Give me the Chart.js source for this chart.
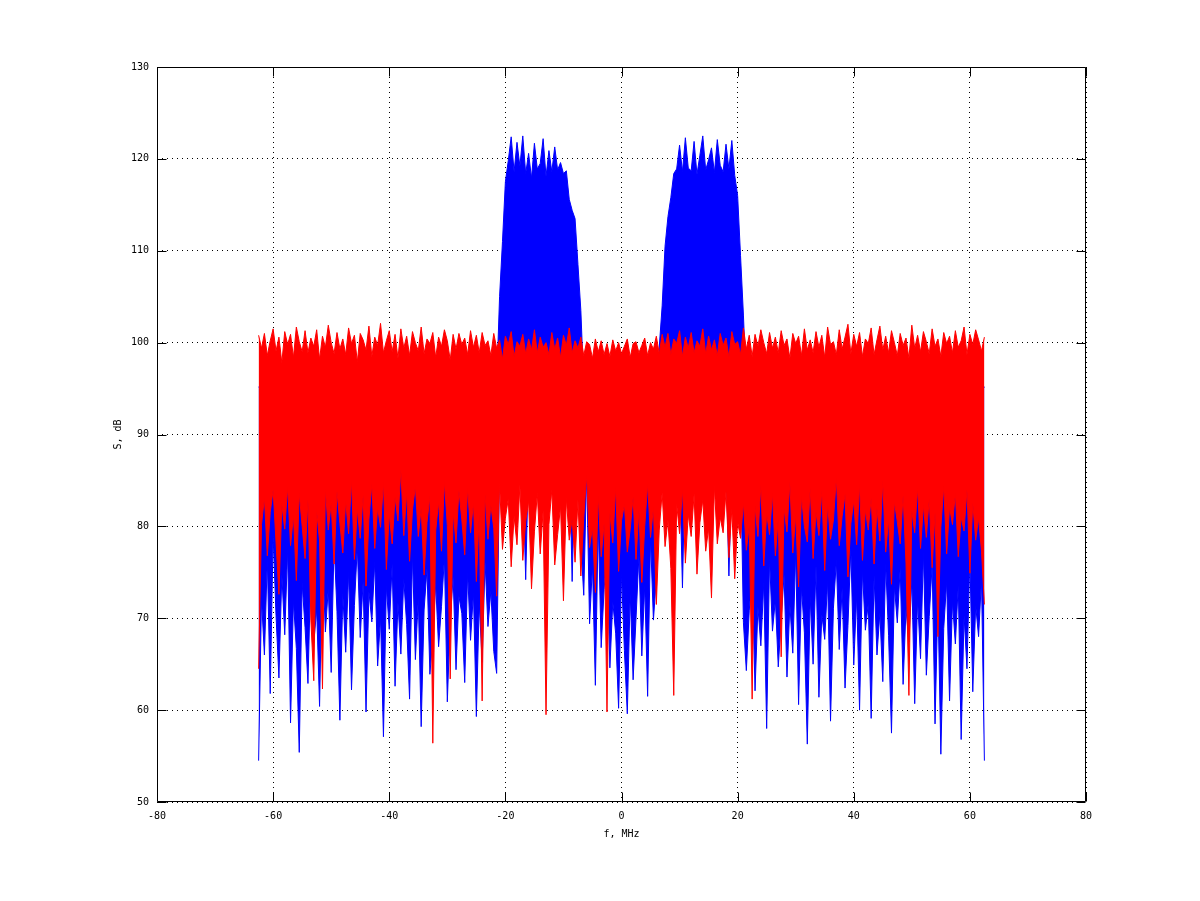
<!DOCTYPE html>
<html>
<head>
<meta charset="utf-8">
<title>Spectrum</title>
<script src="https://cdn.jsdelivr.net/npm/chart.js@4.4.1/dist/chart.umd.min.js"></script>
<style>
  html, body { margin: 0; background: #fff; }
  canvas { display: block; }
</style>
</head>
<body>
<canvas id="spectrum" width="1200" height="901"></canvas>
<script>
// spectrum samples every 0.5 MHz from -62.5 to 62.5
const F_START = -62.5;
const F_STEP = 0.5;

// upper / lower envelopes, dB
const redTop = [
  100.8, 99.4, 101.0, 98.6, 100.2, 101.5, 99.1, 100.6, 97.8, 101.2,
  99.8, 100.9, 98.4, 101.7, 100.1, 99.0, 101.3, 98.9, 100.5, 99.6,
  101.4, 98.2, 100.7, 99.5, 101.9, 100.0, 98.8, 101.1, 99.3, 100.4,
  98.7, 101.6, 99.9, 100.8, 97.9, 101.0, 100.3, 99.2, 101.8, 98.5,
  100.6, 99.7, 102.1, 98.9, 100.2, 101.3, 99.0, 100.9, 98.3, 101.5,
  99.4, 100.7, 98.6, 101.2, 100.0, 99.1, 101.7, 98.8, 100.4, 99.9,
  101.1, 98.4, 100.6, 99.6, 101.4, 100.2, 98.1, 100.9, 99.3, 101.0,
  99.8, 100.5, 98.7, 101.3, 99.5, 100.8, 98.9, 101.1, 99.7, 100.2,
  98.6, 101.0, 99.4, 100.3, 98.2, 100.7, 99.8, 101.2, 98.5, 100.1,
  99.6, 100.9, 98.8, 100.4, 99.2, 101.4, 98.9, 100.6, 99.5, 100.0,
  98.7, 101.1, 99.3, 100.5, 98.4, 100.8, 99.7, 101.6, 98.9, 100.2,
  99.4, 100.6, 98.6, 100.1, 99.8, 98.3, 100.4, 99.0, 100.2, 98.7,
  99.9, 98.5, 100.3, 99.1, 100.0, 98.8, 99.6, 100.4, 98.4, 99.9,
  100.1, 98.9, 99.7, 100.5, 98.6, 100.0, 99.3, 100.7, 98.8, 100.9,
  99.5, 101.0, 98.7, 100.4, 99.9, 101.3, 98.5, 100.6, 99.4, 101.1,
  98.9, 100.2, 99.6, 101.5, 98.8, 100.7, 99.2, 100.3, 98.6, 101.0,
  99.7, 100.5, 98.4, 101.2, 99.8, 100.1, 98.7, 101.6, 99.3, 100.8,
  98.5, 100.9, 99.6, 101.4, 100.0, 98.8, 101.1, 99.4, 100.6, 98.9,
  101.3, 99.7, 100.4, 98.3, 101.0, 99.9, 100.7, 98.6, 101.5, 99.2,
  100.3, 98.9, 101.2, 99.5, 100.8, 98.4, 101.7, 99.8, 100.1, 98.7,
  101.4, 99.3, 100.6, 102.0, 98.8, 100.9, 99.6, 101.1, 98.5, 100.4,
  99.9, 101.6, 98.7, 100.3, 101.8, 99.2, 100.7, 98.9, 101.3, 100.0,
  98.6, 101.0, 99.7, 100.5, 98.3, 101.9, 99.4, 100.8, 99.0, 101.2,
  100.1, 98.8, 101.5, 99.6, 100.4, 98.5, 101.1, 99.9, 100.7, 98.9,
  101.3, 99.5, 100.2, 101.7, 98.7, 100.9, 99.8, 101.4, 100.3, 99.1,
  100.6
];

const redBottom = [
  64.5, 80.2, 83.1, 76.8, 81.5, 84.0, 78.3, 72.6, 82.4, 79.7,
  84.3, 77.9, 81.2, 74.1, 83.6, 80.0, 76.5, 82.9, 69.8, 63.2,
  81.7, 78.4, 62.3, 84.1, 79.6, 82.5, 75.9, 83.8, 80.3, 77.1,
  82.8, 79.2, 85.0, 76.4, 81.9, 78.7, 83.4, 73.5, 80.8, 84.6,
  77.6, 82.1, 79.9, 84.8, 75.3, 81.4, 78.1, 83.2, 80.6, 86.2,
  79.0, 83.7, 76.2, 81.8, 84.4, 78.9, 82.0, 74.7, 80.4, 83.3,
  56.4, 79.5, 82.7, 77.3, 84.9, 80.1, 63.4, 81.6, 78.2, 83.9,
  80.7, 76.9, 84.2, 79.3, 82.6, 74.0, 81.3, 61.0, 83.5, 78.6,
  82.3, 79.8, 72.4, 84.7, 77.5, 80.9, 83.0, 75.6, 81.1, 78.0,
  84.5, 76.3, 80.5, 82.8, 73.2, 79.4, 83.6, 77.0, 81.7, 59.5,
  80.2, 84.0, 75.8, 79.1, 82.2, 71.9, 83.1, 78.5, 80.8, 76.1,
  82.9, 74.6, 81.0, 85.6, 77.7, 79.9, 72.8, 83.4, 76.7, 80.3,
  59.8, 81.5, 78.2, 84.3, 75.1, 80.6, 82.4, 77.2, 79.7, 83.2,
  76.4, 81.8, 73.9, 80.0, 84.6, 78.8, 82.1, 71.5, 79.6, 83.7,
  77.8, 80.7, 75.4, 61.6, 82.5, 79.2, 84.1, 76.0, 81.3, 78.9,
  83.5, 74.8, 80.4, 82.9, 77.3, 79.8, 72.2, 84.4, 78.1, 81.0,
  79.3, 83.8, 76.6, 81.9, 74.3, 80.5, 78.7, 82.6, 77.4, 80.1,
  61.2, 82.2, 78.9, 84.5, 75.7, 81.4, 79.1, 83.6, 76.8, 80.9,
  65.8, 82.0, 79.4, 84.8, 77.1, 81.2, 73.4, 83.3, 80.0, 78.3,
  84.2, 76.5, 81.6, 79.0, 83.9, 75.2, 82.4, 78.6, 80.7, 85.3,
  77.9, 81.1, 83.5, 74.5, 80.3, 82.8, 78.0, 84.6, 76.3, 81.8,
  79.6, 83.1, 75.9, 82.0, 78.4, 84.9, 77.2, 80.8, 73.7, 82.7,
  80.5, 78.1, 83.4, 76.0, 61.6, 81.7, 79.3, 84.2, 77.6, 82.3,
  78.8, 83.0, 75.5, 81.5, 68.0, 79.9, 84.4, 77.0, 82.1, 80.2,
  83.6, 76.7, 81.0, 79.5, 84.0, 74.9, 82.6, 78.5, 80.9, 77.3,
  71.5
];

const blueTop = [
  95.2, 94.8, 95.5, 94.6, 95.1, 95.4, 94.9, 95.3, 94.7, 95.0,
  94.9, 95.3, 94.6, 95.5, 95.0, 94.8, 95.2, 94.7, 95.4, 95.1,
  95.3, 94.7, 95.0, 95.4, 94.8, 95.2, 94.6, 95.5, 94.9, 95.1,
  94.8, 95.4, 95.1, 94.7, 95.3, 94.9, 95.5, 94.6, 95.2, 95.0,
  95.1, 94.6, 95.4, 94.9, 95.2, 94.8, 95.0, 95.5, 94.7, 95.3,
  94.7, 95.2, 94.9, 95.5, 94.6, 95.1, 95.3, 94.8, 95.0, 95.4,
  95.0, 95.5, 94.8, 95.1, 94.7, 95.4, 94.9, 95.2, 95.3, 94.6,
  95.4, 94.9, 95.2, 94.6, 95.0, 95.3, 94.8, 95.1, 94.7, 95.5,
  95.2, 94.8, 95.6, 105.0, 111.0, 117.5, 119.8, 122.4, 118.6, 121.8,
  119.2, 122.5, 118.4, 120.6, 117.9, 121.7, 118.9, 119.5, 122.2, 118.1,
  120.9, 118.6, 121.3, 118.8, 119.6, 118.4, 118.7, 115.6, 114.4, 113.5,
  108.5, 103.5, 95.4, 94.9, 95.3, 94.7, 95.5, 95.0, 94.6, 95.2,
  95.1, 94.8, 95.4, 94.7, 95.0, 95.3, 94.9, 95.2, 94.6, 95.5,
  94.8, 95.3, 95.0, 94.6, 95.4, 94.9, 95.2, 94.7, 99.5, 104.0,
  110.5, 113.7, 115.8, 118.4, 118.9, 121.5, 118.6, 122.3, 119.0, 118.7,
  121.9, 118.3, 120.4, 122.5, 118.8, 119.9, 121.2, 118.5, 122.1, 119.3,
  118.6, 121.6, 118.9, 122.0, 118.2, 116.0, 109.5, 103.0, 95.2, 94.8,
  95.3, 94.7, 95.1, 95.5, 94.9, 95.2, 94.6, 95.4, 95.0, 94.8,
  95.4, 95.0, 94.7, 95.2, 95.5, 94.8, 95.1, 94.9, 95.3, 94.6,
  94.9, 95.3, 95.1, 94.6, 95.0, 95.4, 94.7, 95.5, 95.2, 94.8,
  95.1, 94.7, 95.4, 95.0, 94.8, 95.3, 95.5, 94.6, 94.9, 95.2,
  95.5, 94.9, 95.2, 94.8, 95.3, 94.6, 95.0, 95.4, 95.1, 94.7,
  94.8, 95.2, 94.6, 95.5, 95.1, 94.9, 95.3, 94.7, 95.4, 95.0,
  95.3, 94.8, 95.0, 94.7, 95.4, 95.2, 94.9, 95.5, 94.6, 95.1,
  95.0, 95.4, 94.8, 95.2, 94.7, 95.5, 95.1, 94.9, 95.3, 94.6,
  95.2
];

const blueBottom = [
  54.5, 72.1, 66.0, 76.4, 61.8, 79.0, 70.3, 63.5, 74.8, 68.2,
  77.5, 58.6, 71.9, 66.7, 55.4, 73.8, 69.0, 62.9, 75.6, 67.3,
  71.0, 60.4, 76.9, 68.5, 73.2, 64.1, 78.3, 70.7, 58.9, 72.6,
  66.3, 75.1, 62.2, 71.4, 77.8, 67.9, 74.0, 59.8, 72.9, 69.6,
  76.2, 64.8, 70.1, 57.1, 73.5, 68.8, 75.9, 62.6, 71.7, 66.1,
  74.3, 69.3, 61.2, 77.0, 65.5, 72.2, 58.2, 70.9, 75.4, 63.9,
  68.0, 73.7, 66.9, 71.3, 76.6, 60.9, 69.7, 74.5, 64.4, 72.4,
  70.5, 63.0, 75.0, 67.6, 72.8, 59.3, 71.6, 65.2, 76.1, 69.1,
  73.0, 66.4, 64.0, 86.5, 87.8, 85.9, 88.4, 86.8, 87.2, 85.5,
  88.0, 86.2, 74.2, 87.5, 86.0, 88.6, 85.7, 87.1, 86.4, 88.2,
  85.8, 87.4, 86.6, 88.1, 85.6, 87.0, 86.3, 88.5, 74.0, 86.9,
  85.4, 78.2, 72.5, 86.1, 69.4, 75.8, 62.7, 80.5, 66.8, 73.1,
  77.4, 64.6, 71.8, 68.3, 60.2, 74.9, 66.5, 59.6, 72.7, 63.3,
  70.0, 76.8, 65.9, 73.6, 61.5, 78.7, 69.8, 74.4, 86.7, 85.3,
  87.9, 86.1, 88.3, 85.6, 87.3, 86.5, 73.3, 88.0, 85.9, 87.6,
  86.2, 88.4, 85.7, 87.1, 86.8, 88.2, 85.5, 87.7, 86.3, 88.5,
  85.8, 87.2, 74.6, 86.4, 88.1, 85.4, 87.5, 69.5, 64.3, 70.8,
  75.3, 62.1, 71.2, 67.0, 73.9, 58.0, 76.5, 68.6, 72.0, 64.7,
  69.9, 74.7, 63.6, 71.5, 66.2, 77.3, 60.6, 73.4, 68.4, 56.3,
  72.3, 65.0, 75.7, 61.4, 70.4, 67.7, 74.1, 58.8, 71.1, 76.3,
  66.6, 73.3, 62.4, 69.2, 77.6, 64.9, 72.5, 60.0, 75.2, 68.7,
  71.6, 59.1, 74.6, 66.0, 70.6, 63.1, 76.0, 68.1, 57.5, 73.5,
  69.5, 75.5, 62.8, 71.0, 67.4, 74.2, 60.7, 72.1, 65.6, 77.1,
  63.8, 70.2, 75.8, 58.5, 72.2, 55.2, 68.9, 74.0, 61.0, 71.8,
  67.2, 73.6, 56.8, 70.3, 64.5, 76.7, 62.0, 71.4, 68.0, 74.3,
  54.5
];

const xTicks = [-80, -60, -40, -20, 0, 20, 40, 60, 80];
const yTicks = [50, 60, 70, 80, 90, 100, 110, 120, 130];

const RED = '#ff0000';
const BLUE = '#0000ff';
const FONT = { family: 'DejaVu Sans Mono', size: 10 };

const freqs = redTop.map((_, i) => F_START + i * F_STEP);
const toPoints = vals => vals.map((v, i) => ({ x: freqs[i], y: v }));

function envelope(vals, color, fill, order) {
  return {
    data: toPoints(vals),
    borderColor: color,
    backgroundColor: color,
    borderWidth: 1,
    pointRadius: 0,
    tension: 0,
    fill: fill,
    order: order
  };
}

// box round the plot plus inward tick marks
const frame = {
  id: 'frame',
  afterDraw(chart) {
    const { ctx, chartArea: a, scales: { x, y } } = chart;
    const l = Math.round(a.left) + 0.5, r = Math.round(a.right) - 0.5;
    const t = Math.round(a.top) + 0.5, b = Math.round(a.bottom) - 0.5;
    ctx.save();
    ctx.strokeStyle = '#000';
    ctx.lineWidth = 1;
    ctx.beginPath();
    ctx.rect(l, t, r - l, b - t);
    x.ticks.forEach(tk => {
      const px = Math.round(x.getPixelForValue(tk.value)) + 0.5;
      ctx.moveTo(px, b); ctx.lineTo(px, b - 9);
      ctx.moveTo(px, t); ctx.lineTo(px, t + 9);
    });
    y.ticks.forEach(tk => {
      const py = Math.round(y.getPixelForValue(tk.value)) + 0.5;
      ctx.moveTo(l, py); ctx.lineTo(l + 9, py);
      ctx.moveTo(r, py); ctx.lineTo(r - 9, py);
    });
    ctx.stroke();
    ctx.restore();
  }
};

new Chart(document.getElementById('spectrum'), {
  type: 'line',
  data: {
    datasets: [
      envelope(redBottom, RED, false, 0),
      envelope(redTop, RED, '-1', 0),
      envelope(blueBottom, BLUE, false, 1),
      envelope(blueTop, BLUE, '-1', 1)
    ]
  },
  options: {
    responsive: false,
    animation: false,
    devicePixelRatio: 1,
    layout: { padding: { left: 112, right: 114, top: 67, bottom: 61 } },
    plugins: { legend: { display: false }, tooltip: { enabled: false } },
    scales: {
      x: {
        type: 'linear',
        min: xTicks[0],
        max: xTicks[xTicks.length - 1],
        afterFit: s => { s.height = 38; },
        ticks: { stepSize: xTicks[1] - xTicks[0], color: '#000', font: FONT, padding: 8, maxRotation: 0 },
        grid: { color: '#000', lineWidth: 1, drawTicks: false },
        border: { display: false, dash: [1, 4] },
        title: { display: true, text: 'f, MHz', color: '#000', font: FONT, padding: 0 }
      },
      y: {
        type: 'linear',
        min: yTicks[0],
        max: yTicks[yTicks.length - 1],
        afterFit: s => { s.width = 45; },
        ticks: { stepSize: yTicks[1] - yTicks[0], color: '#000', font: FONT, padding: 8 },
        grid: { color: '#000', lineWidth: 1, drawTicks: false },
        border: { display: false, dash: [1, 4] },
        title: { display: true, text: 'S, dB', color: '#000', font: FONT, padding: 0 }
      }
    }
  },
  plugins: [frame]
});
</script>
</body>
</html>
